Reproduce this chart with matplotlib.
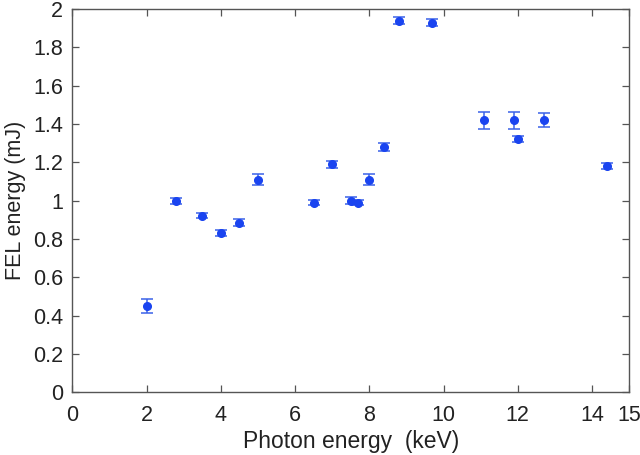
import matplotlib
matplotlib.use("Agg")
import matplotlib.pyplot as plt

photon_kev = [2.0, 2.8, 3.5, 4.0, 4.5, 5.0, 6.5, 7.0, 7.5, 7.7, 8.0, 8.4, 8.8, 9.7, 11.1, 11.9, 12.0, 12.7, 14.4]
fel_mj     = [0.45, 1.00, 0.92, 0.83, 0.885, 1.11, 0.99, 1.19, 1.00, 0.99, 1.11, 1.28, 1.94, 1.93, 1.42, 1.42, 1.32, 1.42, 1.18]
err_mj     = [0.038, 0.015, 0.013, 0.017, 0.017, 0.03, 0.015, 0.018, 0.018, 0.012, 0.028, 0.02, 0.017, 0.017, 0.044, 0.044, 0.015, 0.035, 0.015]

xticks = [0, 2, 4, 6, 8, 10, 12, 14, 15]
yticks = [0, 0.2, 0.4, 0.6, 0.8, 1, 1.2, 1.4, 1.6, 1.8, 2]

plt.rcParams['font.family'] = ['Liberation Sans', 'DejaVu Sans']

fig = plt.figure(figsize=(6.4, 4.55), dpi=100)
ax = fig.add_axes([0.113, 0.138, 0.870, 0.842])

blue = '#1a44f0'
ax.errorbar(photon_kev, fel_mj, yerr=err_mj, fmt='o', color=blue, ecolor='#3a62e8',
            markersize=5.5, elinewidth=1.1, capsize=4, capthick=1.1)

ax.set_xlim(0, 15)
ax.set_ylim(0, 2)
ax.set_xticks(xticks)
ax.set_xticklabels([str(t) for t in xticks])
ax.set_yticks(yticks)
ax.set_yticklabels([('%g' % t) for t in yticks])

axcol = '#555555'
for s in ax.spines.values():
    s.set_color(axcol)
    s.set_linewidth(1.0)
ax.tick_params(direction='in', top=True, right=True, length=5, width=0.9,
               color=axcol, labelsize=15.5, labelcolor='#222222')
ax.tick_params(axis='x', pad=9)
ax.tick_params(axis='y', pad=6.5)

ax.set_xlabel('Photon energy  (keV)', fontsize=16.5, color='#222222', labelpad=3)
ax.set_ylabel('FEL energy (mJ)', fontsize=15.5, color='#222222', labelpad=5)

fig.savefig('out.png', dpi=100)
